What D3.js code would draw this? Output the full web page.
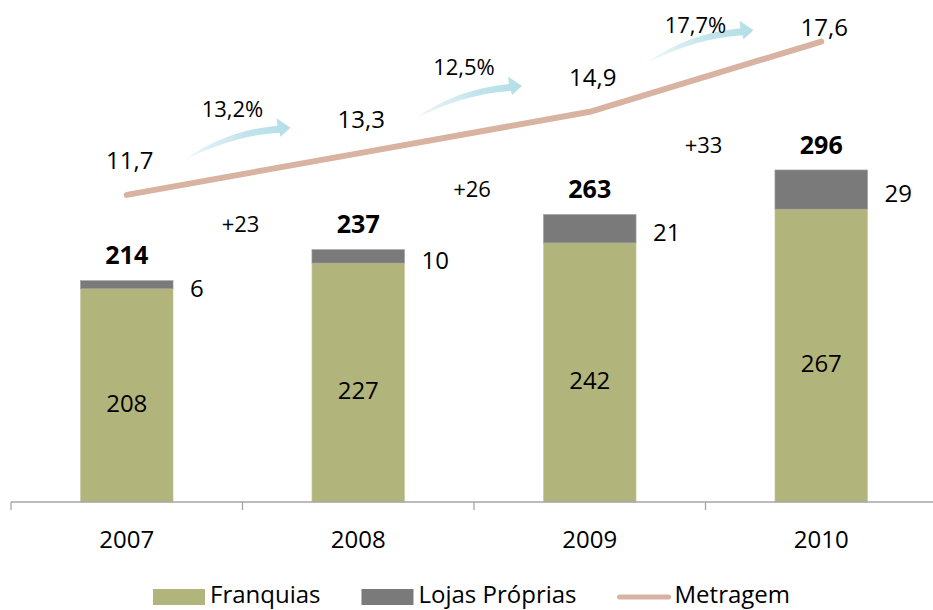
<!DOCTYPE html>
<html>
<head>
<meta charset="utf-8">
<script src="https://cdn.jsdelivr.net/npm/d3@7"></script>
<style>
  body { margin: 0; background: #fff; }
  svg { display: block; font-family: "Open Sans", sans-serif; }
</style>
</head>
<body>
<div id="chart"></div>
<script>
// dados
const years = ['2007', '2008', '2009', '2010'];
const franquias = [208, 227, 242, 267];
const lojasProprias = [6, 10, 21, 29];
const metragem = [11.7, 13.3, 14.9, 17.6];
const crescimento = ['13,2%', '12,5%', '17,7%'];
const legendLabels = ['Franquias', 'Lojas Próprias', 'Metragem'];

const width = 933, height = 610;
const baseY = 502;
const fmt = v => String(v).replace('.', ',');

const totals = franquias.map((f, i) => f + lojasProprias[i]);

const svg = d3.select('#chart')
    .append('svg')
    .attr('width', width)
    .attr('height', height);

const x = d3.scaleBand().domain(years).range([11, 937]).padding(0);
const barW = x.bandwidth() * 0.4;
const cx = d => x(d) + x.bandwidth() / 2;

const y1 = d3.scaleLinear().domain([50, 350]).range([baseY, baseY - 300 * 1.3497]);
const y2 = d3.scaleLinear().domain([0, 19.2]).range([499, 0]);

const green = '#b2b57b', gray = '#7a7a7a', tan = '#d8b3a1';

// gradiente das setas
const grad = svg.append('defs').append('linearGradient')
    .attr('id', 'arrowGrad')
    .attr('x1', 0).attr('x2', 1).attr('y1', 0).attr('y2', 0);
grad.append('stop').attr('offset', '0%').attr('stop-color', '#b9e0e8').attr('stop-opacity', 0.25);
grad.append('stop').attr('offset', '60%').attr('stop-color', '#b9e0e8').attr('stop-opacity', 0.9);
grad.append('stop').attr('offset', '100%').attr('stop-color', '#b4dee7').attr('stop-opacity', 1);

// barras
const bars = svg.append('g');
years.forEach((yr, i) => {
    bars.append('rect')
        .attr('x', cx(yr) - barW / 2)
        .attr('y', y1(franquias[i]))
        .attr('width', barW)
        .attr('height', baseY - y1(franquias[i]))
        .attr('fill', green)
        .attr('stroke', '#c9cba0').attr('stroke-width', 0.6);
    bars.append('rect')
        .attr('x', cx(yr) - barW / 2)
        .attr('y', y1(totals[i]))
        .attr('width', barW)
        .attr('height', y1(franquias[i]) - y1(totals[i]))
        .attr('fill', gray)
        .attr('stroke', '#a0a0a0').attr('stroke-width', 0.6);
});

// eixo x
const axis = svg.append('g')
    .attr('transform', `translate(0,${baseY})`);
axis.append('line')
    .attr('x1', x.range()[0]).attr('x2', x.range()[1])
    .attr('stroke', '#a6a6a6').attr('stroke-width', 1.3);
axis.selectAll('.tick')
    .data(years)
    .join('line')
    .attr('x1', d => x(d)).attr('x2', d => x(d))
    .attr('y1', 0).attr('y2', 8)
    .attr('stroke', '#a6a6a6').attr('stroke-width', 1.3);
axis.selectAll('text')
    .data(years)
    .join('text')
    .attr('x', d => cx(d))
    .attr('y', 38)
    .attr('dy', '0.35em')
    .attr('text-anchor', 'middle')
    .attr('font-size', 24)
    .attr('fill', '#000')
    .text(d => d);

// rótulos das barras
const labels = svg.append('g').attr('font-size', 24).attr('fill', '#000');
years.forEach((yr, i) => {
    const mid = (y1(franquias[i]) + baseY) / 2;
    labels.append('text')
        .attr('x', cx(yr)).attr('y', mid + 8)
        .attr('dy', '0.35em').attr('text-anchor', 'middle')
        .text(franquias[i]);
    const gMid = (y1(totals[i]) + y1(franquias[i])) / 2;
    labels.append('text')
        .attr('x', cx(yr) + barW / 2 + 17).attr('y', gMid + 4)
        .attr('dy', '0.35em').attr('text-anchor', 'start')
        .text(lojasProprias[i]);
    labels.append('text')
        .attr('x', cx(yr)).attr('y', y1(totals[i]) - 25)
        .attr('dy', '0.35em').attr('text-anchor', 'middle')
        .attr('font-weight', 'bold').attr('font-size', 25)
        .text(totals[i]);
    if (i > 0) {
        const m = (cx(years[i - 1]) + cx(yr)) / 2;
        labels.append('text')
            .attr('x', m - 2).attr('y', y1(totals[i]) - 25)
            .attr('dy', '0.35em').attr('text-anchor', 'middle')
            .attr('font-size', 22)
            .text('+' + (totals[i] - totals[i - 1]));
    }
});

// setas de crescimento
const arrowPath = 'M0,0 C25,-18 55,-30 92,-33.5 L91,-41 L105,-31.5 L95,-22.5 L94,-26.5 C60,-24.5 30,-14 0,0 Z';
crescimento.forEach((g, i) => {
    const m = (cx(years[i]) + cx(years[i + 1])) / 2;
    const lineMid = (y2(metragem[i]) + y2(metragem[i + 1])) / 2;
    const tailY = lineMid - 15;
    svg.append('path')
        .attr('d', arrowPath)
        .attr('transform', `translate(${m - 57},${tailY})`)
        .attr('fill', 'url(#arrowGrad)');
    svg.append('text')
        .attr('x', m - 10).attr('y', Math.max(tailY - 50, 25))
        .attr('dy', '0.35em').attr('text-anchor', 'middle')
        .attr('font-size', 22)
        .text(g);
});

// linha metragem
const line = d3.line()
    .x((d, i) => cx(years[i]))
    .y(d => y2(d));
svg.append('path')
    .datum(metragem)
    .attr('d', line)
    .attr('fill', 'none')
    .attr('stroke', tan)
    .attr('stroke-width', 6)
    .attr('stroke-linecap', 'round')
    .attr('stroke-linejoin', 'round');

svg.append('g').attr('font-size', 24)
    .selectAll('text')
    .data(metragem)
    .join('text')
    .attr('x', (d, i) => cx(years[i]) + 3)
    .attr('y', d => Math.max(y2(d) - 34, 28))
    .attr('dy', '0.35em')
    .attr('text-anchor', 'middle')
    .text(d => fmt(d));

// legenda
const legend = svg.append('g').attr('transform', 'translate(153,596)');
let lx = 0;
legendLabels.forEach((lab, i) => {
    if (i < 2) {
        legend.append('rect')
            .attr('x', lx).attr('y', -7)
            .attr('width', 52).attr('height', 16)
            .attr('fill', i === 0 ? green : gray);
    } else {
        legend.append('line')
            .attr('x1', lx + 2).attr('x2', lx + 51)
            .attr('y1', 1).attr('y2', 1)
            .attr('stroke', tan).attr('stroke-width', 5)
            .attr('stroke-linecap', 'round');
    }
    const t = legend.append('text')
        .attr('x', lx + 57).attr('y', 0)
        .attr('dy', '0.3em')
        .attr('font-size', 24)
        .text(lab);
    lx += 57 + t.node().getComputedTextLength() + 41;
});
</script>
</body>
</html>
